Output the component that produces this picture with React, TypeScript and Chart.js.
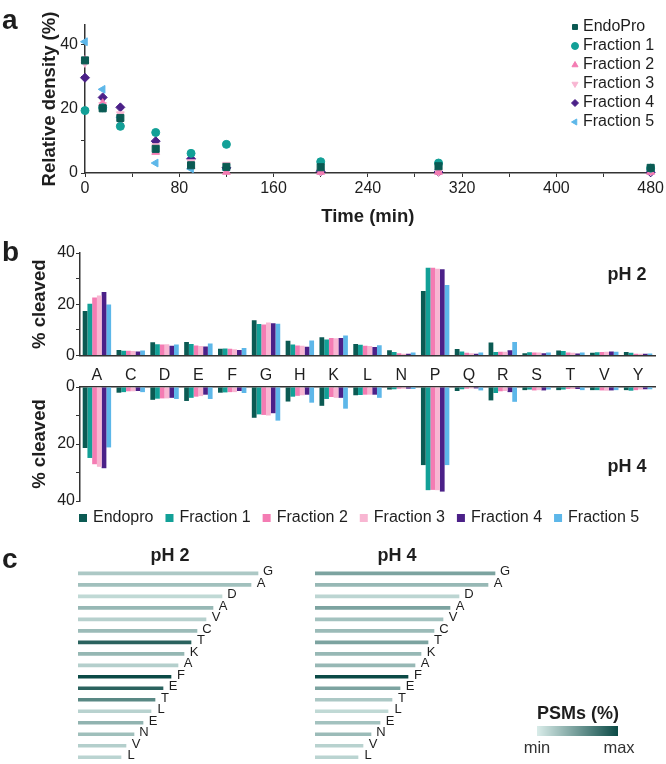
import React, { useEffect, useRef } from 'react';
import { Chart, registerables } from 'chart.js';
import { drawPoint } from 'chart.js/helpers';

Chart.register(...registerables);

const FONT = '"Liberation Sans", Arial, Helvetica, sans-serif';
Chart.defaults.font.family = FONT;
Chart.defaults.color = '#222';

// ---------------- Panel a : relative density over time ----------------
const timePoints = [0, 15, 30, 60, 90, 120, 200, 300, 480];
const seriesNamesA = ['EndoPro', 'Fraction 1', 'Fraction 2', 'Fraction 3', 'Fraction 4', 'Fraction 5'];
const densityEndoPro = [35.0, 20.1, 17.1, 7.5, 2.4, 1.9, 1.8, 2.1, 1.6];
const densityFraction1 = [19.4, 20.3, 14.5, 12.6, 6.1, 8.9, 3.5, 3.1, 1.5];
const densityFraction2 = [35.1, 21.7, 15.4, 6.5, 2.1, 0.3, 0.3, 0.3, 0.3];
const densityFraction3 = [34.2, 21.2, 18.3, 8.4, 3.4, 2.6, 0.5, 0.3, 0.5];
const densityFraction4 = [29.6, 23.5, 20.4, 9.9, 4.4, 1.6, 0.5, 0.3, 0.2];
const densityFraction5 = [40.8, 26.0, 17.3, 3.1, 1.3, 1.0, 0.8, 1.0, 1.0];
const densitySeries = [densityEndoPro, densityFraction1, densityFraction2, densityFraction3, densityFraction4, densityFraction5];

// ---------------- Panel b : % cleaved per residue ----------------
const residues = ['A', 'C', 'D', 'E', 'F', 'G', 'H', 'K', 'L', 'N', 'P', 'Q', 'R', 'S', 'T', 'V', 'Y'];
const seriesNamesB = ['Endopro', 'Fraction 1', 'Fraction 2', 'Fraction 3', 'Fraction 4', 'Fraction 5'];
const ph2Endopro = [17.3, 2.1, 5.1, 5.2, 2.6, 13.7, 5.7, 7.1, 4.5, 2.0, 25.2, 2.5, 5.0, 0.8, 1.9, 1.0, 1.3];
const ph2Fraction1 = [20.2, 1.8, 4.4, 4.5, 2.7, 12.3, 4.3, 6.2, 4.2, 1.3, 34.2, 1.5, 1.3, 1.2, 1.7, 1.2, 1.0];
const ph2Fraction2 = [22.6, 1.8, 4.3, 3.9, 2.6, 12.1, 3.9, 6.8, 3.8, 0.8, 34.2, 1.0, 1.4, 1.1, 1.1, 1.3, 0.6];
const ph2Fraction3 = [23.4, 1.7, 4.4, 3.7, 2.4, 12.9, 3.8, 6.7, 3.7, 0.6, 33.8, 0.8, 1.4, 1.1, 1.0, 1.4, 0.6];
const ph2Fraction4 = [24.8, 1.5, 3.8, 3.5, 2.1, 12.6, 3.4, 6.8, 3.3, 0.6, 33.7, 0.6, 2.0, 0.8, 0.7, 1.5, 0.6];
const ph2Fraction5 = [19.9, 1.9, 4.3, 4.6, 2.9, 12.4, 5.8, 7.8, 4.0, 1.1, 27.5, 1.1, 5.2, 1.1, 1.1, 1.4, 0.7];
const ph4Endopro = [21.4, 2.0, 4.5, 4.9, 2.0, 10.8, 5.1, 6.6, 2.9, 0.9, 27.4, 1.4, 4.7, 1.1, 1.1, 1.1, 1.1];
const ph4Fraction1 = [24.9, 1.8, 4.1, 3.8, 1.9, 9.6, 3.4, 4.2, 2.8, 0.8, 36.2, 0.8, 2.1, 0.9, 0.9, 1.1, 1.3];
const ph4Fraction2 = [27.1, 1.5, 4.0, 3.4, 1.8, 9.8, 3.1, 3.5, 2.7, 0.6, 36.1, 0.6, 1.5, 1.2, 0.7, 1.2, 1.1];
const ph4Fraction3 = [28.0, 1.5, 4.0, 3.2, 1.8, 10.0, 2.9, 3.8, 2.7, 0.6, 36.2, 0.5, 1.4, 1.1, 0.7, 1.3, 0.9];
const ph4Fraction4 = [28.5, 1.4, 3.8, 2.7, 1.4, 9.2, 2.7, 3.8, 2.7, 0.6, 36.7, 0.5, 1.8, 1.2, 0.7, 1.2, 0.8];
const ph4Fraction5 = [21.2, 1.8, 4.2, 4.2, 2.1, 11.8, 5.5, 7.6, 3.8, 0.7, 27.4, 1.2, 5.2, 0.9, 1.1, 1.1, 0.8];
const ph2Series = [ph2Endopro, ph2Fraction1, ph2Fraction2, ph2Fraction3, ph2Fraction4, ph2Fraction5];
const ph4Series = [ph4Endopro, ph4Fraction1, ph4Fraction2, ph4Fraction3, ph4Fraction4, ph4Fraction5];

// ---------------- Panel c : ranked residues, coloured by PSMs ----------------
const rankedResidues = ['G', 'A', 'D', 'A', 'V', 'C', 'T', 'K', 'A', 'F', 'E', 'T', 'L', 'E', 'N', 'V', 'L'];
const rankLength = [180, 173, 144, 135, 128, 119, 113, 106, 100, 93, 85, 77, 73, 65, 56, 48, 43];
const psmPh2 = [22, 27, 12, 32, 17, 30, 85, 33, 18, 100, 85, 62, 16, 35, 28, 18, 15];
const psmPh4 = [45, 32, 14, 45, 26, 30, 45, 32, 32, 100, 45, 22, 12, 26, 30, 16, 15];

// ---------------- styles ----------------
const SERIES_COLORS = ['#0b5a53', '#12a097', '#f47cb3', '#f8b6d2', '#4b2088', '#5db7e9'];
const MARKERS = [
  { style: 'rect', rotation: 0, radius: 5 },
  { style: 'circle', rotation: 0, radius: 4 },
  { style: 'triangle', rotation: 0, radius: 4.5 },
  { style: 'triangle', rotation: 180, radius: 4.5 },
  { style: 'rectRot', rotation: 0, radius: 4.5 },
  { style: 'triangle', rotation: -90, radius: 4.5 },
];
const AXIS = '#333';
const TEXT = '#1e1e1e';
const PSM_MIN = [217, 236, 233];
const PSM_MAX = [11, 74, 70];
const psmColor = (v: number) => {
  const t = v / 100;
  const c = PSM_MIN.map((m, i) => Math.round(m + (PSM_MAX[i] - m) * t));
  return `rgb(${c[0]},${c[1]},${c[2]})`;
};

// ---------------- plugins ----------------
const pointLegendPlugin = {
  id: 'pointLegend',
  afterDraw(chart: any, _a: any, opts: any) {
    const { ctx } = chart;
    ctx.save();
    ctx.font = `${opts.fontSize}px ${FONT}`;
    ctx.textBaseline = 'middle';
    chart.data.datasets.forEach((ds: any, i: number) => {
      const y = opts.y + i * opts.rowGap;
      ctx.fillStyle = ds.backgroundColor;
      ctx.strokeStyle = ds.borderColor;
      ctx.lineWidth = 1;
      drawPoint(ctx, { pointStyle: ds.pointStyle, rotation: ds.pointRotation || 0, radius: opts.radius, borderWidth: 1 } as any, opts.x, y);
      ctx.fillStyle = TEXT;
      ctx.fillText(ds.label, opts.x + opts.textGap, y);
    });
    ctx.restore();
  },
};

const rowLegendPlugin = {
  id: 'rowLegend',
  afterDraw(chart: any, _a: any, opts: any) {
    const { ctx } = chart;
    ctx.save();
    ctx.font = `${opts.fontSize}px ${FONT}`;
    ctx.textBaseline = 'middle';
    let cx = opts.x;
    chart.data.datasets.forEach((ds: any) => {
      ctx.fillStyle = ds.backgroundColor;
      ctx.fillRect(cx - opts.box / 2, opts.y - opts.box / 2, opts.box, opts.box);
      ctx.fillStyle = TEXT;
      const tx = cx + opts.textGap;
      ctx.fillText(ds.label, tx, opts.y);
      cx = tx + ctx.measureText(ds.label).width + opts.itemGap;
    });
    ctx.restore();
  },
};

const textMarksPlugin = {
  id: 'textMarks',
  afterDraw(chart: any, _a: any, opts: any) {
    const { ctx, chartArea } = chart;
    ctx.save();
    (opts.items || []).forEach((it: any) => {
      ctx.font = `${it.bold ? 'bold ' : ''}${it.size}px ${FONT}`;
      ctx.fillStyle = TEXT;
      ctx.textAlign = 'center';
      ctx.textBaseline = 'middle';
      const x = (it.anchor === 'right' ? chartArea.right : chartArea.left) + it.dx;
      ctx.fillText(it.text, x, chartArea.top + it.dy);
    });
    ctx.restore();
  },
};

const residueLabelPlugin = {
  id: 'residueLabels',
  afterDatasetsDraw(chart: any, _a: any, opts: any) {
    const { ctx } = chart;
    const meta = chart.getDatasetMeta(0);
    ctx.save();
    ctx.font = `${opts.size}px ${FONT}`;
    ctx.fillStyle = TEXT;
    ctx.textAlign = 'center';
    ctx.textBaseline = 'middle';
    meta.data.forEach((bar: any, i: number) => {
      ctx.fillText(chart.data.labels[i], bar.x + opts.dx, bar.y + opts.dy);
    });
    ctx.restore();
  },
};

// ---------------- configs ----------------
const tickFont = { size: 16 };
const titleFont = { size: 18.5, weight: 'bold' as const };

function scatterConfig(): any {
  return {
    type: 'scatter',
    data: {
      datasets: densitySeries.map((vals, i) => ({
        label: seriesNamesA[i],
        data: timePoints.map((t, j) => ({ x: t, y: vals[j] })),
        backgroundColor: SERIES_COLORS[i],
        borderColor: SERIES_COLORS[i],
        pointStyle: MARKERS[i].style,
        pointRotation: MARKERS[i].rotation,
        pointRadius: MARKERS[i].radius,
        borderWidth: 1,
        clip: false,
      })),
    },
    plugins: [pointLegendPlugin],
    options: {
      responsive: false,
      animation: false,
      layout: { padding: { top: 25, right: 14, left: 0, bottom: 0 } },
      plugins: {
        legend: { display: false },
        tooltip: { enabled: false },
        pointLegend: { x: 575, y: 27, rowGap: 19, radius: 3.5, textGap: 8, fontSize: 16 },
      },
      scales: {
        x: {
          type: 'linear',
          min: 0,
          max: 480,
          ticks: { stepSize: 40, autoSkip: false, maxRotation: 0, font: tickFont, color: TEXT, padding: 2, callback: (v: number) => (v % 80 === 0 ? String(v) : '') },
          grid: { drawOnChartArea: false, drawTicks: true, tickLength: 4, color: AXIS, lineWidth: 1 },
          border: { color: AXIS, width: 1.5 },
          title: { display: true, text: 'Time (min)', font: titleFont, color: TEXT, padding: { top: 0, bottom: 1.9 } },
          afterFit: (s: any) => { s.height = 57; },
        },
        y: {
          min: 0,
          max: 46,
          ticks: { stepSize: 10, includeBounds: false, font: tickFont, color: TEXT, padding: 3, callback: (v: number) => (v % 20 === 0 ? String(v) : '') },
          grid: { drawOnChartArea: false, drawTicks: true, tickLength: 4, color: AXIS, lineWidth: 1 },
          border: { color: AXIS, width: 1.5 },
          title: { display: true, text: 'Relative density (%)', font: titleFont, color: TEXT, padding: { top: 38.9, bottom: 0 } },
          afterFit: (s: any) => { s.width = 85; },
        },
      },
    },
  };
}

function barDatasets(series: number[][]) {
  return series.map((vals, i) => ({
    label: seriesNamesB[i],
    data: vals,
    backgroundColor: SERIES_COLORS[i],
    borderWidth: 0,
    categoryPercentage: 0.84,
    barPercentage: 1.0,
  }));
}

function cleavedYAxis(reverse: boolean, titlePad: number, width: number): any {
  return {
    min: 0,
    max: 40,
    reverse,
    ticks: { stepSize: 10, font: tickFont, color: TEXT, padding: 1, callback: (v: number) => (v % 20 === 0 ? String(v) : '') },
    grid: { drawOnChartArea: false, drawTicks: true, tickLength: 4, color: AXIS, lineWidth: 1 },
    border: { color: AXIS, width: 1.5 },
    title: { display: true, text: '% cleaved', font: titleFont, color: TEXT, padding: { top: titlePad, bottom: 0 } },
    afterFit: (s: any) => { s.width = width; },
  };
}

function ph2Config(): any {
  return {
    type: 'bar',
    data: { labels: residues, datasets: barDatasets(ph2Series) },
    plugins: [textMarksPlugin],
    options: {
      responsive: false,
      animation: false,
      layout: { padding: { top: 23, right: 11, left: 0, bottom: 0 } },
      plugins: {
        legend: { display: false },
        tooltip: { enabled: false },
        textMarks: { items: [{ text: 'pH 2', anchor: 'right', dx: -28, dy: 22, size: 18, bold: true }] },
      },
      scales: {
        x: {
          grid: { display: false, drawTicks: false },
          ticks: { display: false },
          border: { color: AXIS, width: 1.5 },
          afterFit: (s: any) => { s.height = 1; },
        },
        y: cleavedYAxis(false, 28.9, 80),
      },
    },
  };
}

function ph4Config(): any {
  return {
    type: 'bar',
    data: { labels: residues, datasets: barDatasets(ph4Series) },
    plugins: [textMarksPlugin, rowLegendPlugin],
    options: {
      responsive: false,
      animation: false,
      layout: { padding: { top: 0, right: 11, left: 0, bottom: 34 } },
      plugins: {
        legend: { display: false },
        tooltip: { enabled: false },
        textMarks: { items: [{ text: 'pH 4', anchor: 'right', dx: -28, dy: 80, size: 18, bold: true }] },
        rowLegend: { x: 83, y: 153, box: 8, textGap: 10, itemGap: 16, fontSize: 16 },
      },
      scales: {
        x: {
          position: 'top',
          grid: { display: false, drawTicks: false },
          ticks: { font: tickFont, color: TEXT, padding: 1.5, autoSkip: false, maxRotation: 0 },
          border: { color: AXIS, width: 1.5 },
          afterFit: (s: any) => { s.height = 22; },
        },
        y: cleavedYAxis(true, 28.9, 80),
      },
    },
  };
}

function rankConfig(title: string, psm: number[], padLeft: number, padRight: number, titleDx: number): any {
  return {
    type: 'bar',
    data: {
      labels: rankedResidues,
      datasets: [{ data: rankLength, backgroundColor: psm.map(psmColor), barThickness: 3, borderWidth: 0 }],
    },
    plugins: [residueLabelPlugin, textMarksPlugin],
    options: {
      indexAxis: 'y',
      responsive: false,
      animation: false,
      layout: { padding: { top: 27.6, bottom: 1, left: padLeft, right: padRight } },
      plugins: {
        legend: { display: false },
        tooltip: { enabled: false },
        residueLabels: { dx: 10, dy: -1.5, size: 13 },
        textMarks: { items: [{ text: title, anchor: 'left', dx: titleDx, dy: -11.6, size: 18, bold: true }] },
      },
      scales: {
        x: { display: false, min: 0, max: 192 },
        y: { display: false },
      },
    },
  };
}

// ---------------- components ----------------
function ChartCanvas(props: { left: number; top: number; width: number; height: number; build: () => any }) {
  const ref = useRef<HTMLCanvasElement>(null);
  useEffect(() => {
    const chart = new Chart(ref.current as HTMLCanvasElement, props.build());
    return () => chart.destroy();
  }, []);
  return (
    <canvas
      ref={ref}
      width={props.width}
      height={props.height}
      style={{ position: 'absolute', left: props.left, top: props.top, width: props.width, height: props.height, display: 'block' }}
    />
  );
}

const panelLabel: React.CSSProperties = {
  position: 'absolute',
  fontFamily: FONT,
  fontWeight: 'bold',
  fontSize: 28,
  lineHeight: '28px',
  color: TEXT,
  margin: 0,
};

export default function App() {
  return (
    <div
      style={{
        position: 'absolute',
        left: 0,
        top: 0,
        width: 666,
        height: 764,
        overflow: 'hidden',
        background: '#fff',
        fontFamily: FONT,
      }}
    >
      <ChartCanvas left={0} top={0} width={666} height={230} build={scatterConfig} />
      <ChartCanvas left={0} top={230} width={666} height={136} build={ph2Config} />
      <ChartCanvas left={0} top={365} width={666} height={170} build={ph4Config} />
      <ChartCanvas left={60} top={540} width={230} height={224} build={() => rankConfig('pH 2', psmPh2, 18, 20, 92)} />
      <ChartCanvas left={290} top={540} width={240} height={224} build={() => rankConfig('pH 4', psmPh4, 25, 23, 82)} />

      <div style={{ ...panelLabel, left: 2, top: 6 }}>a</div>
      <div style={{ ...panelLabel, left: 2, top: 238 }}>b</div>
      <div style={{ ...panelLabel, left: 2, top: 545 }}>c</div>

      <div style={{ position: 'absolute', left: 508, top: 702, width: 140, textAlign: 'center', fontWeight: 'bold', fontSize: 18, lineHeight: '22px', color: TEXT }}>
        PSMs (%)
      </div>
      <div
        style={{
          position: 'absolute',
          left: 537,
          top: 726,
          width: 81,
          height: 10,
          background: `linear-gradient(to right, ${psmColor(0)}, ${psmColor(100)})`,
        }}
      />
      <div style={{ position: 'absolute', left: 507, top: 737, width: 60, textAlign: 'center', fontSize: 16.5, lineHeight: '20px', color: '#333' }}>min</div>
      <div style={{ position: 'absolute', left: 589, top: 737, width: 60, textAlign: 'center', fontSize: 16.5, lineHeight: '20px', color: '#333' }}>max</div>
    </div>
  );
}
